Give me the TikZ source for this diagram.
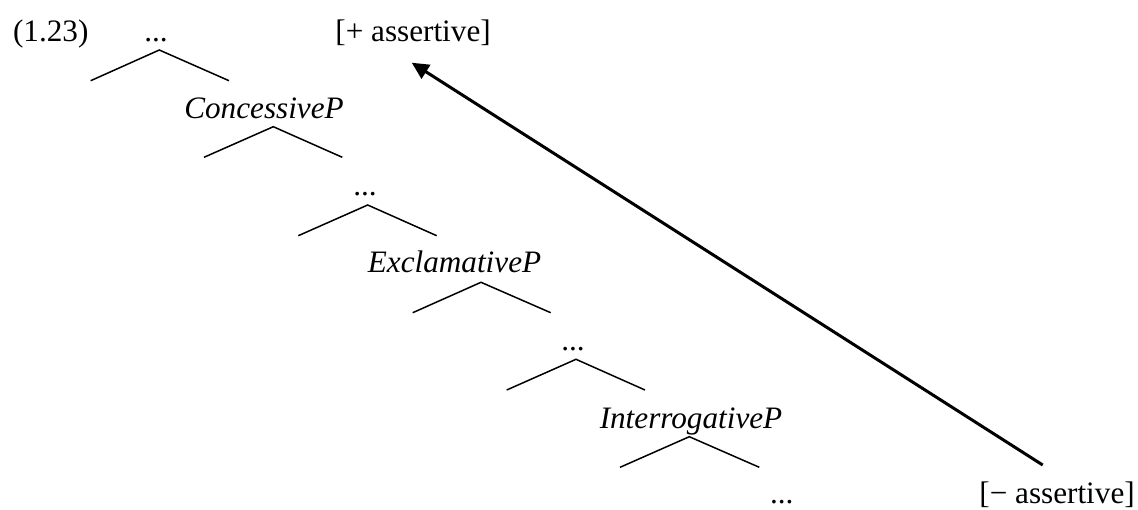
\documentclass[tikz,border=0pt]{standalone}
\usepackage{fontspec}
\setmainfont{Liberation Serif}
\usetikzlibrary{arrows.meta}
\begin{document}
\begin{tikzpicture}[x=0.5pt,y=-0.5pt,
  lbl/.style={anchor=base,inner sep=0pt,font=\fontsize{15.6}{18}\selectfont},
  cat/.style={anchor=base,inner sep=0pt,font=\fontsize{15.6}{18}\selectfont\itshape},
  branch/.style={line width=0.75pt},
  move/.style={line width=1.5pt,-{Triangle[length=8.5pt,width=8pt]}}]
\useasboundingbox (0,0) rectangle (1138,509);
% labels
\node[lbl,anchor=base west] (ex) at (12.7,41.7) {(1.23)};
\node[lbl] (d1) at (156,41.7) {...};
\node[lbl,anchor=base west] (plus) at (335,41.7) {[+ assertive]};
\node[cat] (conc) at (264,118.3) {ConcessiveP};
\node[lbl] (d2) at (365,195) {...};
\node[cat] (excl) at (454.5,272.7) {ExclamativeP};
\node[lbl] (d3) at (573,350) {...};
\node[cat] (inter) at (691,428) {InterrogativeP};
\node[lbl] (d4) at (781.7,503) {...};
\node[lbl,anchor=base west] (minus) at (979,503) {[− assertive]};
% tree branches
\foreach \i/\ax/\ay/\lx/\rx/\by in {
  1/159.3/50/90.7/229/80.7,
  2/273.3/126.7/204/342.3/157.3,
  3/367.7/205/298.3/436.7/235.7,
  4/481/282.3/412.7/550.7/312.7,
  5/576/359.3/506.7/645/390,
  6/689.3/436.7/620/759.3/467.3}{
  \coordinate (a\i) at (\ax,\ay);
  \coordinate (l\i) at (\lx,\by);
  \coordinate (r\i) at (\rx,\by);
  \draw[branch] (l\i) -- (a\i) -- (r\i);
}
% movement arrow
\coordinate (tail) at (1042.7,465);
\coordinate (tip) at (411.7,62.7);
\draw[move] (tail) -- (tip);
\end{tikzpicture}
\end{document}
